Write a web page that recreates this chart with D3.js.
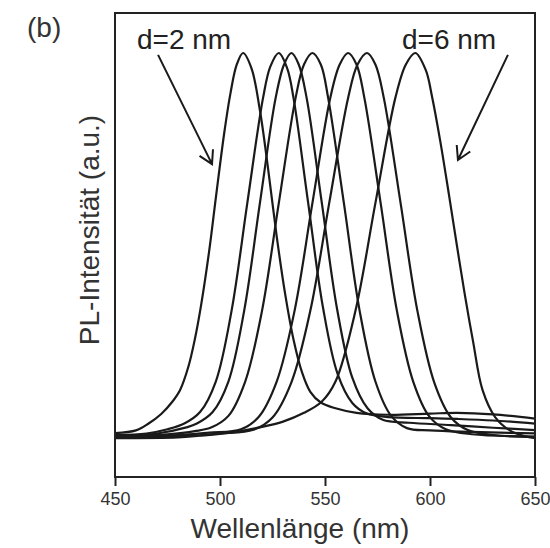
<!DOCTYPE html>
<html><head><meta charset="utf-8">
<script src="https://cdn.jsdelivr.net/npm/d3@7"></script>
<style>body{margin:0;background:#fff}</style>
</head><body>
<svg id="c" width="550" height="548"></svg>
<script>
// ---- data ----
const xTicks = [450, 500, 550, 600, 650];
const xDomain = [450, 650];
const panelLabel = "(b)";
const xTitle = "Wellenlänge (nm)";
const yTitle = "PL-Intensität (a.u.)";
const annoLabels = ["d=2 nm", "d=6 nm"];

const s1_wl = [450,460,466,472,477,481,485,488,491,494.8,498,502,505,508,511,515,519,523,527,531,535,539,543,548,555,565,580,600,613,630,650];
const s1_pl = [0.005,0.012,0.03,0.055,0.085,0.118,0.18,0.25,0.34,0.48,0.62,0.79,0.895,0.97,1.0,0.96,0.85,0.693,0.52,0.37,0.25,0.165,0.113,0.085,0.07,0.058,0.053,0.056,0.058,0.054,0.043];

const s2_wl = [450,465,475,483,490.5,498,505.5,513,520.5,524,528,532,535,542,549,556,563,570,580,600,613,630,650];
const s2_pl = [0.0,0.004,0.015,0.03,0.06,0.14,0.325,0.607,0.8825,0.965,1.0,0.96,0.8825,0.607,0.335,0.16,0.084,0.056,0.047,0.044,0.042,0.038,0.03];

const s3_wl = [450,470,484,489,496.5,504,511.5,519,526.5,530.5,534,537.5,541.25,548.5,555.75,563,570.25,577.5,590,610,630,650];
const s3_pl = [-0.002,0.004,0.02,0.03,0.06,0.14,0.325,0.607,0.8825,0.97,1.0,0.97,0.8825,0.607,0.33,0.15,0.07,0.04,0.032,0.026,0.019,0.013];

const s4_wl = [450,475,488,496,504,512,520,528,536,540,544,548,551.5,559,566.5,574,581.5,589,600,620,650];
const s4_pl = [-0.003,0.002,0.01,0.02,0.05,0.14,0.325,0.607,0.8825,0.97,1.0,0.97,0.8825,0.607,0.325,0.14,0.05,0.018,0.012,0.008,0.004];

const s5_wl = [450,480,495,510,518.5,527,535.5,544,552.5,557,561,565,568.75,576.5,584.25,592,599.75,607.5,620,650];
const s5_pl = [-0.004,0.0,0.006,0.015,0.048,0.14,0.325,0.607,0.8825,0.97,1.0,0.97,0.8825,0.607,0.325,0.14,0.048,0.015,0.002,-0.004];

const s6_wl = [450,485,500,516,525,534,543,552,561,565.5,570,574,578,586,594,602,610,618,630,650];
const s6_pl = [-0.005,-0.002,0.004,0.014,0.046,0.138,0.325,0.607,0.8825,0.97,1.0,0.97,0.8825,0.607,0.325,0.138,0.046,0.013,0.0,-0.005];

const s7_wl = [450,480,490,505,519,530,540,548.4,555,564.5,574,583.5,588.5,593,598,601,604.8,609,612.7,616.5,620.5,625,631,638,645,650];
const s7_pl = [-0.008,-0.006,-0.002,0.006,0.02,0.035,0.058,0.087,0.14,0.325,0.607,0.8825,0.97,1.0,0.955,0.885,0.772,0.63,0.5,0.37,0.245,0.118,0.047,0.012,-0.003,-0.008];

// annotation arrows in data coordinates [wl, intensity]
const arrowLeft  = [[470.5, 0.995], [496.2, 0.709]];
const arrowRight = [[637.1, 0.995], [613.3, 0.72]];

// ---- layout ----
const box = {left: 115, right: 535, top: 13, bottom: 477};
const x = d3.scaleLinear().domain(xDomain).range([box.left, box.right]);
const y = d3.scaleLinear().domain([0, 1]).range([435, 53]);

const svg = d3.select("#c");
const font = "'Liberation Sans', Arial, Helvetica, sans-serif";
const ink = "#1a1a1a";

svg.append("defs").append("clipPath").attr("id","clip")
  .append("rect").attr("x", box.left).attr("y", box.top)
  .attr("width", box.right-box.left).attr("height", box.bottom-box.top);

const series = [[s1_wl,s1_pl],[s2_wl,s2_pl],[s3_wl,s3_pl],[s4_wl,s4_pl],[s5_wl,s5_pl],[s6_wl,s6_pl],[s7_wl,s7_pl]];
const line = d3.line().x(d => x(d[0])).y(d => y(d[1])).curve(d3.curveCatmullRom.alpha(0.5));
const g = svg.append("g").attr("clip-path","url(#clip)");
series.forEach(([wl, pl]) => {
  g.append("path").attr("d", line(wl.map((w,i)=>[w, pl[i]])))
    .attr("fill","none").attr("stroke", ink).attr("stroke-width", 2.2)
    .attr("stroke-linejoin","round");
});

// frame
svg.append("rect").attr("x", box.left).attr("y", box.top)
  .attr("width", box.right-box.left).attr("height", box.bottom-box.top)
  .attr("fill","none").attr("stroke", "#222").attr("stroke-width", 2);

// x axis
const ax = svg.append("g").attr("transform", `translate(0,${box.bottom})`)
  .call(d3.axisBottom(x).tickValues(xTicks).tickSize(9).tickPadding(6).tickFormat(d3.format("d")));
ax.select(".domain").remove();
ax.selectAll(".tick line").attr("stroke","#222").attr("stroke-width",2);
ax.selectAll(".tick text").attr("font-family", font).attr("font-size", 18).attr("fill","#333");

svg.append("text").attr("x", 300).attr("y", 538).attr("text-anchor","middle")
  .attr("font-family", font).attr("font-size", 28).attr("fill","#333").text(xTitle);
svg.append("text").attr("transform","translate(99,230) rotate(-90)").attr("text-anchor","middle")
  .attr("font-family", font).attr("font-size", 28).attr("fill","#333").text(yTitle);

svg.append("text").attr("x", 27).attr("y", 37).attr("font-family", font)
  .attr("font-size", 28).attr("fill","#333").text(panelLabel);

svg.append("text").attr("x", 137).attr("y", 49).attr("font-family", font)
  .attr("font-size", 28).attr("fill","#222").text(annoLabels[0]);
svg.append("text").attr("x", 402).attr("y", 49).attr("font-family", font)
  .attr("font-size", 28).attr("fill","#222").text(annoLabels[1]);

function arrow(a) {
  const x0 = x(a[0][0]), y0 = y(a[0][1]), x1 = x(a[1][0]), y1 = y(a[1][1]);
  const dx = x1-x0, dy = y1-y0, L = Math.hypot(dx,dy), ux = dx/L, uy = dy/L;
  const len = 15, t = 30*Math.PI/180;
  const b = s => [x1 - len*(ux*Math.cos(s*t) - uy*Math.sin(s*t)), y1 - len*(uy*Math.cos(s*t) + ux*Math.sin(s*t))];
  const b1 = b(1), b2 = b(-1);
  svg.append("path").attr("d", `M${x0},${y0}L${x1},${y1}M${b1[0]},${b1[1]}L${x1},${y1}L${b2[0]},${b2[1]}`)
    .attr("fill","none").attr("stroke", ink).attr("stroke-width", 2).attr("stroke-linejoin","miter");
}
arrow(arrowLeft);
arrow(arrowRight);
</script>
</body></html>
